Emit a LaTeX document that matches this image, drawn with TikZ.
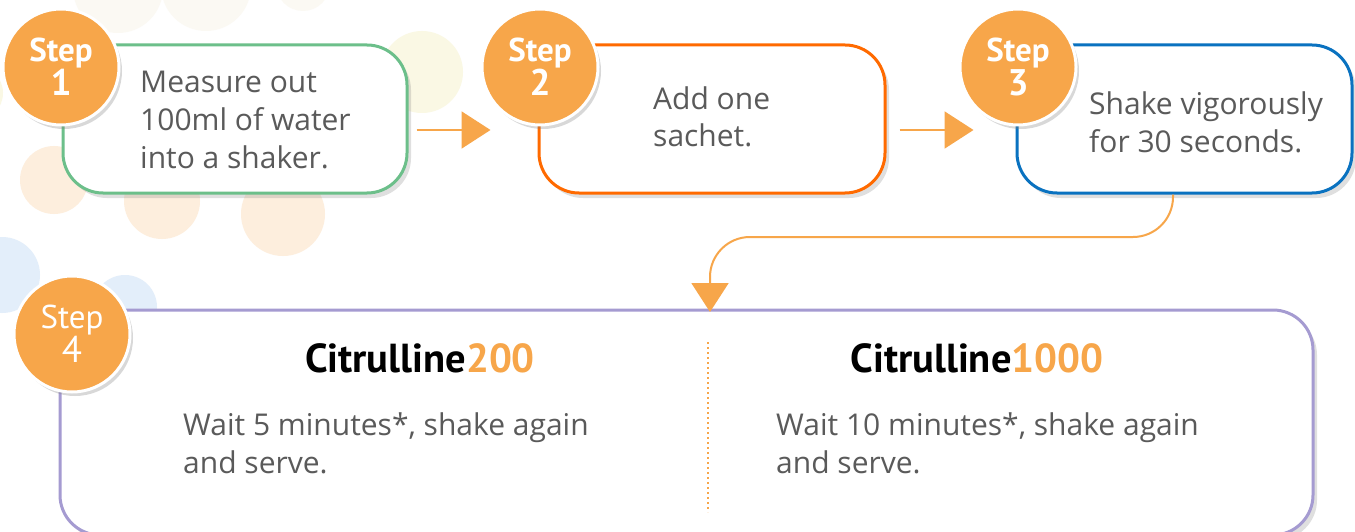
\documentclass[tikz,border=0pt]{standalone}
\usepackage{fontspec}
\setmainfont{Open Sans}
\newfontfamily\stepfont{PT Sans}
\usetikzlibrary{arrows.meta,shadows,positioning}

\definecolor{badgeorange}{HTML}{F7A64A}
\definecolor{greenline}{HTML}{6CBF8A}
\definecolor{orangeline}{HTML}{FF6A00}
\definecolor{blueline}{HTML}{0A72C0}
\definecolor{purpleline}{HTML}{A59BD1}
\definecolor{textgray}{HTML}{5A5A5A}
\definecolor{peach}{HTML}{FDEEDD}
\definecolor{cream}{HTML}{FAF8E4}
\definecolor{faint}{HTML}{FBF9F3}
\definecolor{paleblue}{HTML}{E3EEFA}

\begin{document}
\begin{tikzpicture}[x=1pt, y=-1pt,
    stepbox/.style={draw, line width=3pt, fill=white, rounded corners=40pt,
        drop shadow={shadow xshift=4pt, shadow yshift=-5pt, opacity=.25}},
    badge/.style={circle, fill=badgeorange, draw=white, line width=3pt, minimum size=116pt,
        inner sep=0pt, text=white, align=center,
        drop shadow={shadow xshift=3pt, shadow yshift=-4pt, opacity=.3}},
    body/.style={anchor=base west, align=left, inner sep=0pt, text=textgray,
        font=\fontsize{30}{38}\selectfont},
    head/.style={anchor=base, inner sep=0pt, font=\stepfont\bfseries\fontsize{40.5}{40}\selectfont},
    flow/.style={draw=badgeorange, line width=2pt, -{Triangle[length=29pt,width=37pt]}}]

    \useasboundingbox (0,0) rectangle (1355,532);
    \fill[white] (0,0) rectangle (1355,532);

    % dots in the background
    \fill[faint] (118,-12) circle (45);
    \fill[faint] (206,-14) circle (45);
    \fill[faint] (303,-16) circle (27);
    \fill[cream] (422,72) circle (41);
    \fill[cream] (-25,93) circle (28);
    \fill[peach] (54,180) circle (34);
    \fill[peach] (162,201) circle (38);
    \fill[peach] (283,214) circle (42);
    \fill[paleblue] (2,275) circle (38);
    \fill[paleblue] (125,307) circle (32);

    % the boxes
    \node[stepbox, draw=greenline, minimum width=344pt, minimum height=148pt] (s1) at (235,119) {};
    \node[stepbox, draw=orangeline, minimum width=346pt, minimum height=148pt] (s2) at (712,119) {};
    \node[stepbox, draw=blueline, minimum width=335pt, minimum height=148pt] (s3) at (1184.5,119) {};
    \node[stepbox, draw=purpleline, minimum width=1253pt, minimum height=225pt] (s4) at (686.5,422.5) {};

    % texts sit on the baseline of their last line
    \node[body] (t1) at (140,168) {Measure out\\100ml of water\\into a shaker.};
    \node[body] (t2) at (653,147) {Add one\\sachet.};
    \node[body] (t3) at (1089,153) {Shake vigorously\\for 30 seconds.};

    % step 4, two columns
    \node[head] (h1) at (420,372) {Citrulline\textcolor{badgeorange}{200}};
    \node[head] (h2) at (977,372) {Citrulline\textcolor{badgeorange}{1000}};
    \draw[badgeorange, line width=2pt, dash pattern=on 2pt off 3pt] (708,342) -- (708,512);
    \node[body] (w1) at (183,473) {Wait 5 minutes*, shake again\\and serve.};
    \node[body] (w2) at (776,473) {Wait 10 minutes*, shake again\\and serve.};

    % badges
    \node[badge] (b1) at (61,67) {\stepfont\bfseries\fontsize{33}{40}\selectfont Step\\\stepfont\bfseries\fontsize{37}{40}\selectfont 1};
    \node[badge] (b2) at (540,67) {\stepfont\bfseries\fontsize{33}{40}\selectfont Step\\\stepfont\bfseries\fontsize{37}{40}\selectfont 2};
    \node[badge] (b3) at (1018,67) {\stepfont\bfseries\fontsize{33}{40}\selectfont Step\\\stepfont\bfseries\fontsize{37}{40}\selectfont 3};
    \node[badge] (b4) at (72,334) {\stepfont\fontsize{33}{40}\selectfont Step\\\stepfont\fontsize{37}{40}\selectfont 4};

    % arrows
    \draw[flow] ([xshift=8pt,yshift=-11pt]s1.east) -- ([xshift=-47pt,yshift=-11pt]s2.west);
    \draw[flow] ([xshift=13pt,yshift=-11pt]s2.east) -- ([xshift=-42pt,yshift=-11pt]s3.west);
    \coordinate (c4) at (710,312);
    \draw[flow, rounded corners=40pt] ([xshift=-11.5pt]s3.south) |- (710,237) -- (c4);
\end{tikzpicture}
\end{document}
